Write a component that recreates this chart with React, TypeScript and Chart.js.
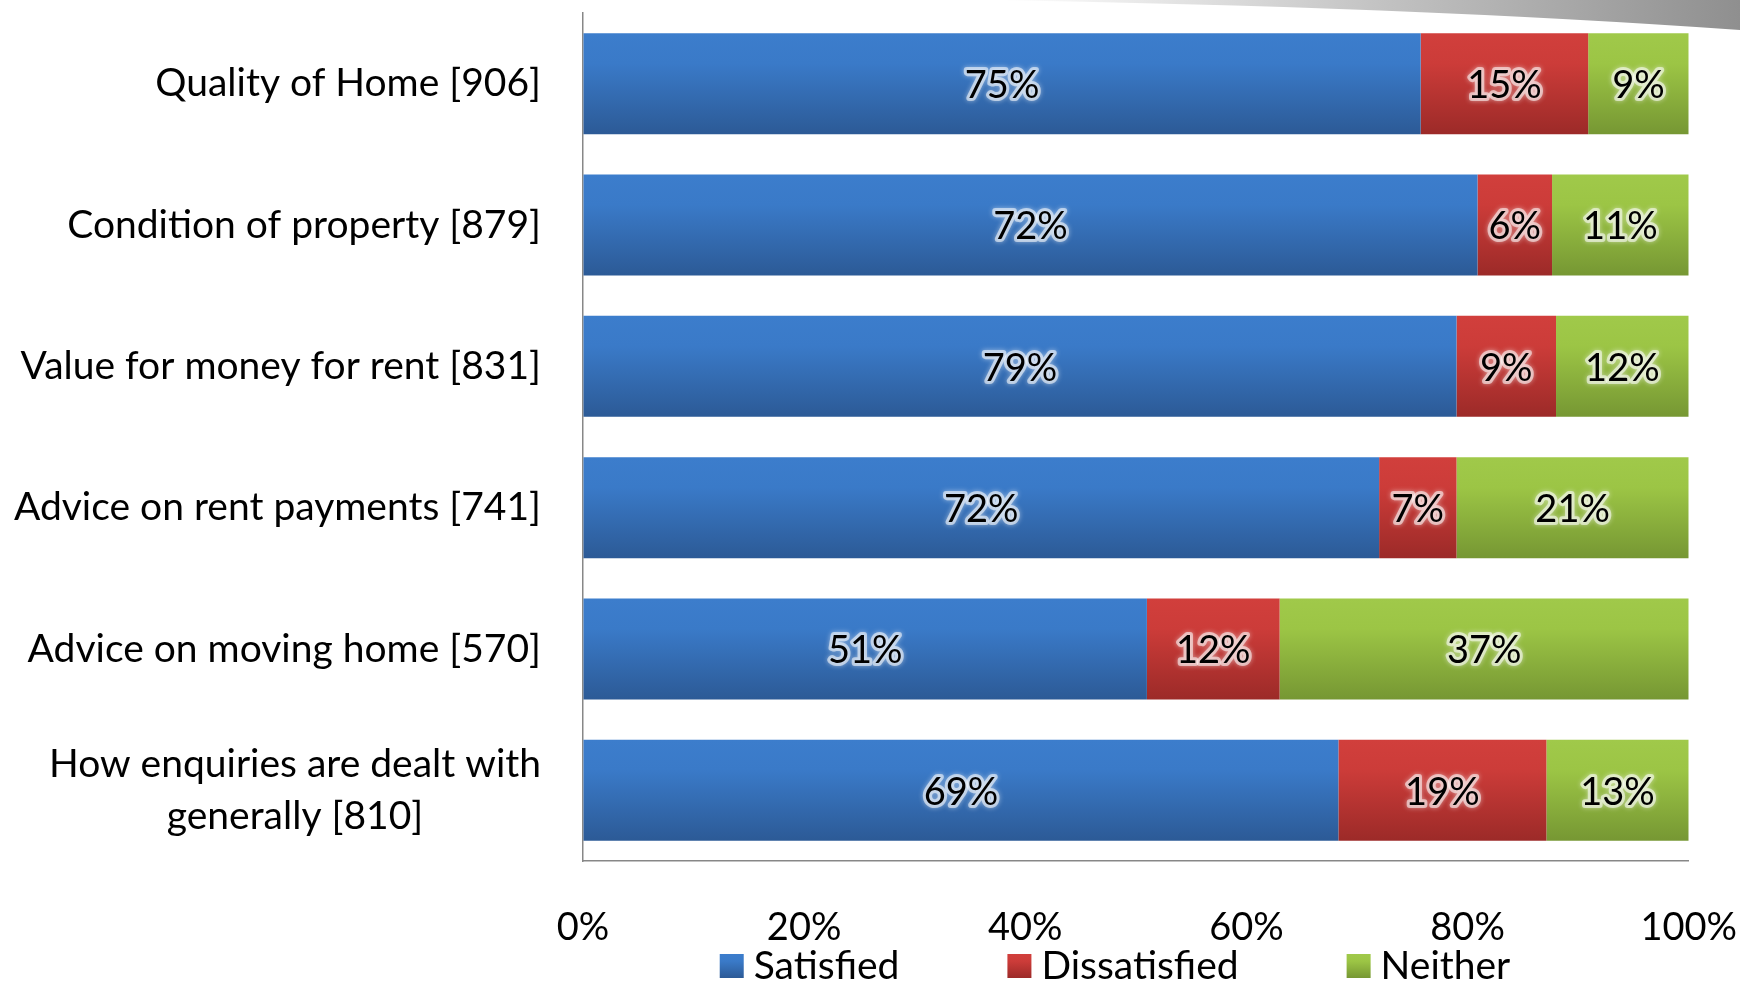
import React, { useEffect, useRef } from 'react';
import { Chart, registerables } from 'chart.js';

Chart.register(...registerables);

// Survey items, with the number of respondents in brackets
const categories: (string | string[])[] = [
  'Quality of Home [906]',
  'Condition of property [879]',
  'Value for money for rent [831]',
  'Advice on rent payments [741]',
  'Advice on moving home [570]',
  ['How enquiries are dealt with', 'generally [810]'],
];

// Response shares in percent, as reported per item
const satisfied = [75, 72, 79, 72, 51, 69];
const dissatisfied = [15, 6, 9, 7, 12, 19];
const neither = [9, 11, 12, 21, 37, 13];

const seriesNames = ['Satisfied', 'Dissatisfied', 'Neither'];
const xTickValues = [0, 20, 40, 60, 80, 100];

// Vertical gradient stops (top, upper, bottom) for each series
const seriesStops: string[][] = [
  ['#3C7DCC', '#3A7AC8', '#2C5A96'],
  ['#D13F3C', '#CC3C39', '#9C2A28'],
  ['#A0C94A', '#9CC545', '#769733'],
];

const FONT = 'Lato, "Open Sans", sans-serif';
const BAR_PCT = 0.715;

const rawSeries = [satisfied, dissatisfied, neither];
const rowTotals = categories.map((_, i) => rawSeries.reduce((s, arr) => s + arr[i], 0));
// 100% stacked: each row is scaled to its own total
const shareSeries = rawSeries.map((arr) => arr.map((v, i) => (v / rowTotals[i]) * 100));

function gradientFill(stops: string[]) {
  return (ctx: any) => {
    const chart = ctx.chart;
    const y = chart.scales && chart.scales.y;
    if (ctx.type !== 'data' || !y || !chart.chartArea) return stops[1];
    const yc = y.getPixelForValue(ctx.dataIndex);
    const step = Math.abs(y.getPixelForValue(1) - y.getPixelForValue(0)) || 100;
    const h = (step * BAR_PCT) / 2;
    const g = chart.ctx.createLinearGradient(0, yc - h, 0, yc + h);
    g.addColorStop(0, stops[0]);
    g.addColorStop(0.3, stops[1]);
    g.addColorStop(1, stops[2]);
    return g;
  };
}

// Grey sweep in the top-right corner
const cornerSweep = {
  id: 'cornerSweep',
  beforeDraw(chart: any) {
    const { ctx, width } = chart;
    ctx.save();
    const g = ctx.createLinearGradient(1000, 0, width, 0);
    g.addColorStop(0, 'rgba(255,255,255,1)');
    g.addColorStop(0.5, '#c4c4c4');
    g.addColorStop(1, '#8f8f8f');
    ctx.fillStyle = g;
    ctx.beginPath();
    ctx.moveTo(980, 0);
    ctx.quadraticCurveTo(1400, 6, width, 30);
    ctx.lineTo(width, 0);
    ctx.closePath();
    ctx.fill();
    ctx.restore();
  },
};

// Category labels: block right-aligned to the axis, lines centred within the block
const categoryLabels = {
  id: 'categoryLabels',
  afterDraw(chart: any) {
    const { ctx, chartArea } = chart;
    const y = chart.scales.y;
    ctx.save();
    ctx.font = `39px ${FONT}`;
    ctx.fillStyle = '#000';
    ctx.textBaseline = 'middle';
    ctx.textAlign = 'center';
    const lineH = 52;
    categories.forEach((label, i) => {
      const lines = Array.isArray(label) ? label : [label];
      const widths = lines.map((l) => ctx.measureText(l).width);
      const blockW = Math.max(...widths);
      const right = chartArea.left - 42;
      const cx = right - blockW / 2;
      const yc = y.getPixelForValue(i);
      lines.forEach((l, j) => {
        ctx.fillText(l, cx, yc + (j - (lines.length - 1) / 2) * lineH);
      });
    });
    ctx.restore();
  },
};

// Percent labels on each segment, dark text with a soft light halo
const segmentLabels = {
  id: 'segmentLabels',
  afterDatasetsDraw(chart: any) {
    const { ctx } = chart;
    ctx.save();
    ctx.font = `38px ${FONT}`;
    ctx.textAlign = 'center';
    ctx.textBaseline = 'middle';
    ctx.lineJoin = 'round';
    rawSeries.forEach((arr, d) => {
      const meta = chart.getDatasetMeta(d);
      meta.data.forEach((bar: any, i: number) => {
        const text = `${arr[i]}%`;
        const cx = (bar.x + bar.base) / 2;
        const cy = bar.y + 2;
        ctx.shadowColor = 'rgba(255,255,255,0.85)';
        ctx.shadowBlur = 5;
        ctx.strokeStyle = 'rgba(255,255,255,0.55)';
        ctx.lineWidth = 6;
        ctx.strokeText(text, cx, cy);
        ctx.shadowBlur = 0;
        ctx.shadowColor = 'transparent';
        ctx.fillStyle = '#000';
        ctx.fillText(text, cx, cy);
      });
    });
    ctx.restore();
  },
};

// Legend row under the axis labels
const bottomLegend = {
  id: 'bottomLegend',
  afterDraw(chart: any) {
    const { ctx } = chart;
    ctx.save();
    ctx.font = `39px ${FONT}`;
    ctx.textBaseline = 'middle';
    ctx.textAlign = 'left';
    const box = 24;
    const boxGap = 10;
    const itemGap = 108;
    const widths = seriesNames.map((n) => ctx.measureText(n).width);
    const total = widths.reduce((s, w) => s + box + boxGap + w, 0) + itemGap * (seriesNames.length - 1);
    let x = 1115 - total / 2;
    const yc = 966;
    seriesNames.forEach((name, k) => {
      const stops = seriesStops[k];
      const g = ctx.createLinearGradient(0, yc - box / 2, 0, yc + box / 2);
      g.addColorStop(0, stops[0]);
      g.addColorStop(0.3, stops[1]);
      g.addColorStop(1, stops[2]);
      ctx.fillStyle = g;
      ctx.fillRect(x, yc - box / 2, box, box);
      ctx.fillStyle = '#000';
      ctx.fillText(name, x + box + boxGap, yc);
      x += box + boxGap + widths[k] + itemGap;
    });
    ctx.restore();
  },
};

export default function App() {
  const canvasRef = useRef<HTMLCanvasElement | null>(null);

  useEffect(() => {
    const canvas = canvasRef.current;
    if (!canvas) return;
    const chart = new Chart(canvas, {
      type: 'bar',
      data: {
        labels: categories as any,
        datasets: seriesNames.map((name, k) => ({
          label: name,
          data: shareSeries[k],
          backgroundColor: gradientFill(seriesStops[k]),
          borderWidth: 0,
          barPercentage: BAR_PCT,
          categoryPercentage: 1,
        })),
      },
      options: {
        indexAxis: 'y',
        responsive: false,
        animation: false,
        layout: { padding: { top: 13, right: 51, left: 0, bottom: 0 } },
        plugins: {
          legend: { display: false },
          tooltip: { enabled: false },
        },
        scales: {
          x: {
            type: 'linear',
            stacked: true,
            min: 0,
            max: 100,
            afterBuildTicks: (scale: any) => {
              scale.ticks = xTickValues.map((v) => ({ value: v }));
            },
            afterFit: (scale: any) => {
              scale.height = 122;
            },
            // invisible tick marks give the gap between the axis and its labels
            grid: {
              display: true,
              drawOnChartArea: false,
              drawTicks: true,
              tickLength: 41,
              color: 'rgba(0,0,0,0)',
            },
            border: { display: true, color: '#878787', width: 1.5 },
            ticks: {
              color: '#000',
              font: { family: FONT, size: 38 },
              padding: 3,
              maxRotation: 0,
              callback: (v: any) => `${v}%`,
            },
          },
          y: {
            type: 'category',
            stacked: true,
            afterFit: (scale: any) => {
              scale.width = 583;
            },
            grid: { display: false, drawTicks: false },
            border: { display: true, color: '#878787', width: 1.5 },
            ticks: { display: false },
          },
        },
      },
      plugins: [cornerSweep, categoryLabels, segmentLabels, bottomLegend],
    });
    return () => chart.destroy();
  }, []);

  return (
    <div style={{ position: 'absolute', left: 0, top: 0, width: 1740, height: 983, background: '#fff' }}>
      <canvas ref={canvasRef} width={1740} height={983} style={{ display: 'block' }} />
    </div>
  );
}
